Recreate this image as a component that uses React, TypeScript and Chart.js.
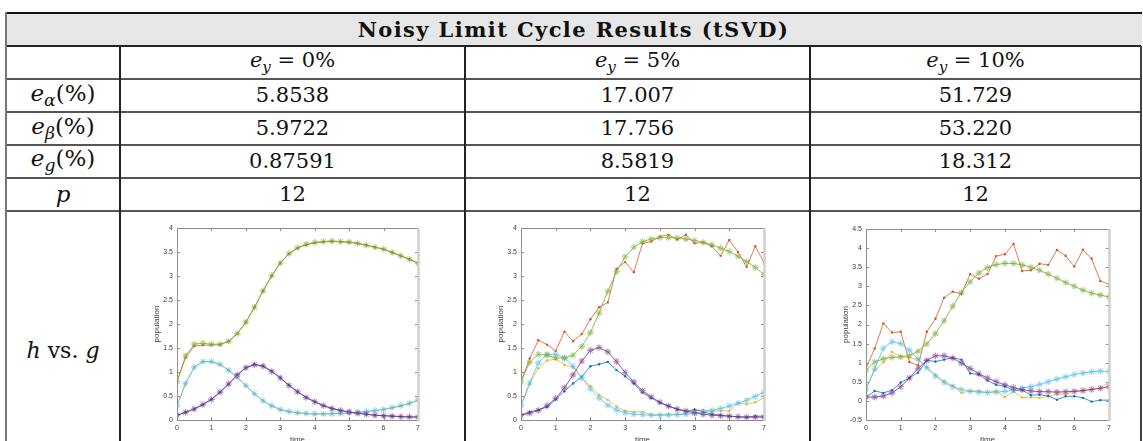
import React, { useEffect, useRef } from 'react';
import { Chart, registerables } from 'chart.js';

Chart.register(...registerables);

// Sample times (t = 0 … 7, step 0.25)
const time = [0, 0.25, 0.5, 0.75, 1, 1.25, 1.5, 1.75, 2, 2.25, 2.5, 2.75, 3, 3.25, 3.5, 3.75, 4, 4.25, 4.5, 4.75, 5, 5.25, 5.5, 5.75, 6, 6.25, 6.5, 6.75, 7];

// Table contents
const noiseLevels = ['0%', '5%', '10%'];
const errAlpha = ['5.8538', '17.007', '51.729'];
const errBeta = ['5.9722', '17.756', '53.220'];
const errG = ['0.87591', '8.5819', '18.312'];
const rankP = ['12', '12', '12'];

// e_y = 0% : measured trajectories h and reconstructed g
const h1_e0 = [0.1, 0.16, 0.23, 0.32, 0.43, 0.58, 0.75, 0.94, 1.09, 1.16, 1.13, 1.02, 0.88, 0.73, 0.59, 0.47, 0.38, 0.3, 0.24, 0.2, 0.16, 0.14, 0.12, 0.1, 0.09, 0.08, 0.07, 0.065, 0.06];
const h2_e0 = [0.8, 1.3, 1.54, 1.56, 1.56, 1.57, 1.64, 1.8, 2.03, 2.35, 2.69, 3.0, 3.27, 3.46, 3.58, 3.65, 3.69, 3.71, 3.72, 3.71, 3.7, 3.68, 3.64, 3.6, 3.56, 3.49, 3.42, 3.35, 3.27];
const h3_e0 = [0.3, 0.76, 1.1, 1.21, 1.21, 1.15, 1.03, 0.88, 0.71, 0.54, 0.4, 0.29, 0.21, 0.17, 0.14, 0.13, 0.12, 0.12, 0.13, 0.13, 0.14, 0.15, 0.17, 0.19, 0.22, 0.25, 0.29, 0.34, 0.41];
const g1_e0 = [0.1, 0.16, 0.23, 0.32, 0.43, 0.58, 0.75, 0.94, 1.09, 1.15, 1.12, 1.01, 0.88, 0.72, 0.59, 0.47, 0.38, 0.3, 0.24, 0.2, 0.17, 0.14, 0.12, 0.1, 0.09, 0.08, 0.07, 0.065, 0.06];
const g2_e0 = [0.8, 1.34, 1.58, 1.6, 1.58, 1.58, 1.64, 1.8, 2.04, 2.35, 2.69, 3.01, 3.27, 3.47, 3.59, 3.66, 3.7, 3.72, 3.73, 3.72, 3.71, 3.68, 3.64, 3.6, 3.56, 3.49, 3.42, 3.35, 3.26];
const g3_e0 = [0.3, 0.76, 1.1, 1.22, 1.22, 1.16, 1.04, 0.9, 0.72, 0.55, 0.4, 0.3, 0.22, 0.18, 0.15, 0.14, 0.13, 0.13, 0.13, 0.14, 0.15, 0.16, 0.18, 0.2, 0.22, 0.26, 0.3, 0.35, 0.42];

// e_y = 5%
const h1_e5 = [0.1, 0.17, 0.21, 0.27, 0.43, 0.6, 0.76, 0.9, 1.12, 1.16, 1.21, 1.04, 0.91, 0.76, 0.57, 0.46, 0.36, 0.29, 0.22, 0.18, 0.22, 0.17, 0.12, 0.1, 0.08, 0.06, 0.06, 0.08, 0.08];
const h2_e5 = [0.8, 1.28, 1.66, 1.57, 1.44, 1.84, 1.64, 1.79, 2.1, 2.35, 2.45, 3.15, 3.29, 3.08, 3.68, 3.72, 3.82, 3.86, 3.76, 3.86, 3.68, 3.7, 3.62, 3.42, 3.75, 3.5, 3.19, 3.62, 3.28];
const h3_e5 = [0.3, 0.75, 1.08, 1.24, 1.27, 1.15, 1.1, 0.88, 0.71, 0.52, 0.42, 0.28, 0.19, 0.17, 0.17, 0.11, 0.11, 0.12, 0.12, 0.13, 0.2, 0.21, 0.18, 0.19, 0.19, 0.35, 0.33, 0.37, 0.46];
const g1_e5 = [0.1, 0.14, 0.2, 0.3, 0.45, 0.67, 0.94, 1.23, 1.45, 1.51, 1.42, 1.22, 0.99, 0.79, 0.61, 0.48, 0.37, 0.29, 0.23, 0.19, 0.15, 0.12, 0.1, 0.09, 0.08, 0.07, 0.06, 0.06, 0.06];
const g2_e5 = [0.8, 1.2, 1.37, 1.35, 1.29, 1.29, 1.35, 1.53, 1.82, 2.23, 2.68, 3.09, 3.4, 3.6, 3.72, 3.77, 3.8, 3.8, 3.79, 3.77, 3.74, 3.7, 3.65, 3.58, 3.51, 3.41, 3.3, 3.18, 3.03];
const g3_e5 = [0.3, 0.77, 1.19, 1.37, 1.37, 1.29, 1.12, 0.88, 0.65, 0.46, 0.31, 0.21, 0.15, 0.12, 0.11, 0.1, 0.1, 0.1, 0.11, 0.12, 0.14, 0.17, 0.2, 0.24, 0.29, 0.35, 0.41, 0.49, 0.58];

// e_y = 10%
const h1_e10 = [0.1, 0.26, 0.21, 0.28, 0.48, 0.6, 0.74, 1.06, 1.03, 1.08, 1.13, 1.08, 0.72, 0.69, 0.53, 0.42, 0.38, 0.28, 0.28, 0.15, 0.16, 0.13, 0.03, 0.12, 0.12, 0.08, -0.02, 0.02, 0.02];
const h2_e10 = [0.85, 1.37, 2.03, 1.79, 1.81, 1.02, 0.93, 1.81, 2.15, 2.7, 2.86, 2.8, 3.32, 3.2, 3.32, 3.79, 3.84, 4.11, 3.4, 3.42, 3.59, 3.56, 3.95, 3.8, 3.52, 3.96, 3.72, 3.14, 3.05];
const h3_e10 = [0.3, 0.8, 1.01, 1.28, 1.16, 1.14, 1.08, 0.88, 0.68, 0.52, 0.4, 0.21, 0.26, 0.26, 0.22, 0.26, 0.1, 0.24, 0.09, 0.09, 0.08, 0.12, 0.17, 0.18, 0.25, 0.27, 0.3, 0.34, 0.49];
const g1_e10 = [0.1, 0.1, 0.13, 0.21, 0.37, 0.6, 0.85, 1.06, 1.18, 1.18, 1.12, 0.99, 0.85, 0.71, 0.6, 0.5, 0.42, 0.35, 0.29, 0.26, 0.24, 0.24, 0.23, 0.24, 0.25, 0.27, 0.3, 0.33, 0.37];
const g2_e10 = [0.8, 1.02, 1.1, 1.14, 1.15, 1.19, 1.3, 1.49, 1.76, 2.1, 2.48, 2.84, 3.12, 3.35, 3.49, 3.57, 3.6, 3.6, 3.56, 3.5, 3.42, 3.32, 3.21, 3.1, 3.0, 2.9, 2.82, 2.77, 2.72];
const g3_e10 = [0.3, 0.85, 1.38, 1.55, 1.5, 1.33, 1.1, 0.87, 0.65, 0.48, 0.37, 0.3, 0.25, 0.23, 0.22, 0.23, 0.25, 0.28, 0.33, 0.37, 0.43, 0.5, 0.57, 0.63, 0.69, 0.73, 0.76, 0.78, 0.77];

// MATLAB default line colours
const C_BLUE = '#0072BD';
const C_ORANGE = '#D95319';
const C_YELLOW = '#EDB120';
const C_PURPLE = '#7E2F8E';
const C_GREEN = '#77AC30';
const C_CYAN = '#4DBEEE';

const fade = (hex: string, a: number) => {
  const n = parseInt(hex.slice(1), 16);
  return `rgba(${(n >> 16) & 255},${(n >> 8) & 255},${n & 255},${a})`;
};

const toPoints = (ys: number[]) => ys.map((v, i) => ({ x: time[i], y: v }));

// MATLAB-style tick text: 4, 3.5, 0, -0.5
const tickText = (v: number | string) => String(Number(Number(v).toFixed(2)));

type Panel = {
  h: number[][];
  g: number[][];
  yMin: number;
  yMax: number;
  plot: { left: number; right: number; top: number; bottom: number };
};

const panels: Panel[] = [
  { h: [h1_e0, h2_e0, h3_e0], g: [g1_e0, g2_e0, g3_e0], yMin: 0, yMax: 4, plot: { left: 177, right: 418, top: 228, bottom: 420 } },
  { h: [h1_e5, h2_e5, h3_e5], g: [g1_e5, g2_e5, g3_e5], yMin: 0, yMax: 4, plot: { left: 521, right: 764, top: 228, bottom: 420 } },
  { h: [h1_e10, h2_e10, h3_e10], g: [g1_e10, g2_e10, g3_e10], yMin: -0.5, yMax: 4.5, plot: { left: 866, right: 1109, top: 229, bottom: 420 } },
];

const CANVAS_TOP = 214;
const CANVAS_H = 250;
const Y_AXIS_W = 47;
const PAD_RIGHT = 10;

// Axes box with inward ticks on all four sides
const boxPlugin = {
  id: 'axesBox',
  afterDatasetsDraw(chart: any) {
    const { ctx, chartArea, scales } = chart;
    const { left, right, top, bottom } = chartArea;
    const xs = scales.x;
    const ys = scales.y;
    ctx.save();
    ctx.strokeStyle = '#8e8e8e';
    ctx.lineWidth = 1;
    ctx.beginPath();
    ctx.moveTo(left + 0.5, top + 0.5);
    ctx.lineTo(left + 0.5, bottom + 0.5);
    ctx.lineTo(right, bottom + 0.5);
    ctx.moveTo(left, top + 0.5);
    ctx.lineTo(right, top + 0.5);
    const tl = 3;
    xs.ticks.forEach((t: any) => {
      const px = Math.round(xs.getPixelForValue(t.value)) + 0.5;
      ctx.moveTo(px, bottom);
      ctx.lineTo(px, bottom - tl);
      ctx.moveTo(px, top);
      ctx.lineTo(px, top + tl);
    });
    ys.ticks.forEach((t: any) => {
      const py = Math.round(ys.getPixelForValue(t.value)) + 0.5;
      ctx.moveTo(left, py);
      ctx.lineTo(left + tl, py);
      ctx.moveTo(right, py);
      ctx.lineTo(right - tl, py);
    });
    ctx.stroke();
    ctx.strokeStyle = '#cfcfcf';
    ctx.lineWidth = 2.5;
    ctx.beginPath();
    ctx.moveTo(right + 0.5, top);
    ctx.lineTo(right + 0.5, bottom + 1);
    ctx.stroke();
    ctx.restore();
  },
};

function PanelChart({ panel }: { panel: Panel }) {
  const ref = useRef<HTMLCanvasElement | null>(null);
  const { plot } = panel;
  const canvasLeft = plot.left - Y_AXIS_W;
  const width = plot.right - plot.left + Y_AXIS_W + PAD_RIGHT;
  const padTop = plot.top - CANVAS_TOP;
  const xAxisH = CANVAS_TOP + CANVAS_H - plot.bottom;

  useEffect(() => {
    if (!ref.current) return;
    const hColors = [C_BLUE, C_ORANGE, C_YELLOW];
    const gColors = [C_PURPLE, C_GREEN, C_CYAN];
    const datasets: any[] = [];
    panel.h.forEach((ys, i) => {
      datasets.push({
        data: toPoints(ys),
        borderColor: fade(hColors[i], 0.85),
        backgroundColor: hColors[i],
        borderWidth: 0.9,
        pointStyle: 'circle',
        pointRadius: 1.2,
        pointBorderWidth: 0,
        pointBackgroundColor: hColors[i],
        order: 2,
      });
    });
    panel.g.forEach((ys, i) => {
      datasets.push({
        data: toPoints(ys),
        borderColor: fade(gColors[i], 0.8),
        backgroundColor: gColors[i],
        borderWidth: 1,
        pointStyle: 'star',
        pointRadius: 3.3,
        pointBorderWidth: 1.1,
        pointBorderColor: fade(gColors[i], 0.55),
        pointBackgroundColor: fade(gColors[i], 0.55),
        order: 1,
      });
    });
    const tickFont = { family: 'Liberation Sans, Arial, sans-serif', size: 7 };
    const chart = new Chart(ref.current, {
      type: 'line',
      data: { datasets },
      options: {
        animation: false,
        responsive: false,
        events: [],
        layout: { padding: { top: padTop, right: PAD_RIGHT, left: 0, bottom: 0 } },
        plugins: { legend: { display: false }, tooltip: { enabled: false } },
        elements: { line: { tension: 0 } },
        scales: {
          x: {
            type: 'linear',
            min: 0,
            max: 7,
            grid: { display: false, drawTicks: false },
            border: { display: false },
            ticks: { stepSize: 1, font: tickFont, color: '#3c3c3c', padding: 4, maxRotation: 0, callback: tickText },
            title: { display: true, text: 'time', font: { family: 'Liberation Sans, Arial, sans-serif', size: 8 }, color: '#3c3c3c', padding: { top: 0, bottom: xAxisH - 25 } },
            afterFit: (s: any) => { s.height = xAxisH; },
          },
          y: {
            type: 'linear',
            min: panel.yMin,
            max: panel.yMax,
            grid: { display: false, drawTicks: false },
            border: { display: false },
            ticks: { stepSize: 0.5, font: tickFont, color: '#3c3c3c', padding: 4, callback: tickText },
            title: { display: true, text: 'population', font: { family: 'Liberation Sans, Arial, sans-serif', size: 8 }, color: '#3c3c3c', padding: { top: 22, bottom: 0 } },
            afterFit: (s: any) => { s.width = Y_AXIS_W; },
          },
        },
      },
      plugins: [boxPlugin],
    });
    return () => chart.destroy();
  }, [panel]);

  return (
    <canvas
      ref={ref}
      width={width}
      height={CANVAS_H}
      style={{ position: 'absolute', left: canvasLeft, top: CANVAS_TOP, width, height: CANVAS_H }}
    />
  );
}

const SERIF = '"DejaVu Serif", serif';

const Ey = ({ level }: { level: string }) => (
  <span>
    <i>e</i>
    <sub style={{ fontSize: '0.72em', fontStyle: 'italic', verticalAlign: '-0.3em' }}>y</sub>
    {' = ' + level}
  </span>
);

const ErrLabel = ({ sym }: { sym: string }) => (
  <span>
    <i>e</i>
    <sub style={{ fontSize: '0.75em', fontStyle: 'italic', verticalAlign: '-0.3em' }}>{sym}</sub>
    (%)
  </span>
);

const cols = [
  { left: 6, right: 120 },
  { left: 120, right: 465 },
  { left: 465, right: 810 },
  { left: 810, right: 1141 },
];
const rowLines = [46, 79, 112, 144.5, 177.5, 210.5];

function Cell({ col, top, bottom, size = 21, children }: { col: number; top: number; bottom: number; size?: number; children: React.ReactNode }) {
  const c = cols[col];
  return (
    <div
      style={{
        position: 'absolute',
        left: c.left,
        width: c.right - c.left,
        top,
        height: bottom - top,
        display: 'flex',
        alignItems: 'center',
        justifyContent: 'center',
        fontFamily: SERIF,
        fontSize: size,
        lineHeight: 1,
        color: '#111',
        whiteSpace: 'nowrap',
      }}
    >
      {children}
    </div>
  );
}

export default function App() {
  const rows: { label: React.ReactNode; values: React.ReactNode[] }[] = [
    { label: '', values: noiseLevels.map((l) => <Ey key={l} level={l} />) },
    { label: <ErrLabel sym="α" />, values: errAlpha },
    { label: <ErrLabel sym="β" />, values: errBeta },
    { label: <ErrLabel sym="g" />, values: errG },
    { label: <i>p</i>, values: rankP },
  ];

  return (
    <div style={{ position: 'fixed', left: 0, top: 0, width: 1143, height: 441, overflow: 'hidden', background: '#fff' }}>
      {/* title band */}
      <div style={{ position: 'absolute', left: 6, top: 13, width: 1136, height: 33, background: '#e6e6e6' }} />
      <div
        style={{
          position: 'absolute', left: 6, top: 13, width: 1135, height: 33,
          display: 'flex', alignItems: 'center', justifyContent: 'center',
          fontFamily: SERIF, fontWeight: 'bold', fontSize: 21, letterSpacing: 1.4, color: '#111',
        }}
      >
        Noisy Limit Cycle Results (tSVD)
      </div>

      {rows.map((r, ri) => {
        const top = rowLines[ri];
        const bottom = rowLines[ri + 1];
        return (
          <React.Fragment key={ri}>
            <Cell col={0} top={top} bottom={bottom} size={23}>{r.label}</Cell>
            {r.values.map((v, ci) => (
              <Cell key={ci} col={ci + 1} top={top} bottom={bottom}>{v}</Cell>
            ))}
          </React.Fragment>
        );
      })}

      <div
        style={{
          position: 'absolute', left: 6, width: 114, top: 335, height: 30,
          display: 'flex', alignItems: 'center', justifyContent: 'center',
          fontFamily: SERIF, fontSize: 22, color: '#111', whiteSpace: 'nowrap',
        }}
      >
        <i>h</i>&nbsp;vs.&nbsp;<i>g</i>
      </div>

      {/* rules */}
      <div style={{ position: 'absolute', left: 5, top: 12, width: 1137, height: 2, background: '#111' }} />
      {rowLines.map((y, i) => (
        <div key={i} style={{ position: 'absolute', left: 5, top: Math.round(y) - 1, width: 1136, height: i === 0 ? 2 : 1.5, background: i === 0 ? '#222' : '#555' }} />
      ))}
      <div style={{ position: 'absolute', left: 5, top: 12, width: 2, height: 429, background: '#777' }} />
      <div style={{ position: 'absolute', left: 1140, top: 46, width: 2, height: 395, background: '#444' }} />
      {[120, 465, 810].map((x) => (
        <div key={x} style={{ position: 'absolute', left: x - 1, top: 46, width: 2, height: 395, background: '#222' }} />
      ))}

      {panels.map((p, i) => (
        <PanelChart key={i} panel={p} />
      ))}
    </div>
  );
}
